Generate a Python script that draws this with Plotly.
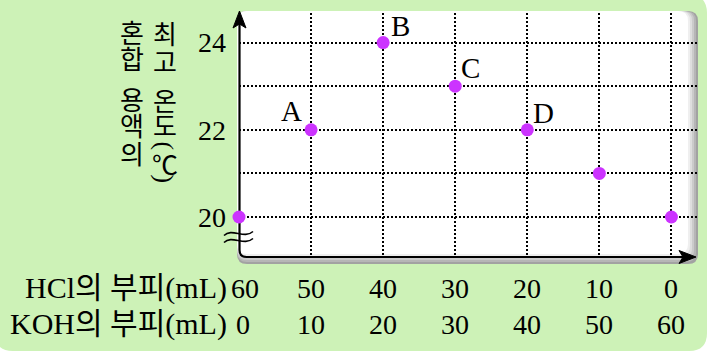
import plotly.graph_objects as go

# ---- data ----
hcl = [60, 50, 40, 30, 20, 10, 0]
koh = [0, 10, 20, 30, 40, 50, 60]
temp = [20, 22, 24, 23, 22, 21, 20]
point_labels = ["", "A", "B", "C", "D", "", ""]
ytick_vals = [20, 21, 22, 23, 24]
ytick_text = ["20", "", "22", "", "24"]
row1_label = "HCl의 부피(mL)"
row2_label = "KOH의 부피(mL)"
ytitle_left = ["혼", "합", "용", "액", "의"]
ytitle_right = ["최", "고", "온", "도", "(", "℃", ")"]

W, H = 707, 351
L, R, T, B = 239, 10, 13, 94
PW, PH = W - L - R, H - T - B
SERIF = "Liberation Serif, Noto Sans CJK KR"
KFONT = "Noto Sans CJK KR"


def px(x):
    return (x - L) / PW


def py(y):
    return (H - B - y) / PH


def P(x, y):
    return f"{px(x):.5f},{py(y):.5f}"


def rrect(x0, y0, x1, y1, r, tl=True, tr=True, br=True, bl=True):
    s = f"M {P(x0 + (r if tl else 0), y0)} "
    if tr:
        s += f"L {P(x1 - r, y0)} Q {P(x1, y0)} {P(x1, y0 + r)} "
    else:
        s += f"L {P(x1, y0)} "
    if br:
        s += f"L {P(x1, y1 - r)} Q {P(x1, y1)} {P(x1 - r, y1)} "
    else:
        s += f"L {P(x1, y1)} "
    if bl:
        s += f"L {P(x0 + r, y1)} Q {P(x0, y1)} {P(x0, y1 - r)} "
    else:
        s += f"L {P(x0, y1)} "
    if tl:
        s += f"L {P(x0, y0 + r)} Q {P(x0, y0)} {P(x0 + r, y0)} "
    else:
        s += f"L {P(x0, y0)} "
    return s + "Z"


shapes = []
# green background
shapes.append(dict(type="path", xref="paper", yref="paper", layer="below",
                   path=rrect(-5, -5, 707, 351, 18, tl=False),
                   fillcolor="#cdf2b7", line=dict(width=0)))
# white panel with shadow
shadow = [(698, 264, "#a2a2a2"), (696, 262, "#b6b6b6"), (694, 260, "#cbcbcb"),
          (692, 258, "#dedede"), (690, 256, "#efefef"), (688, 254, "#ffffff")]
for x1, y1, c in shadow:
    shapes.append(dict(type="path", xref="paper", yref="paper", layer="below",
                       path=rrect(237, 11, x1, y1, 10),
                       fillcolor=c, line=dict(width=0)))
# axes (L-shape with rounded corner)
shapes.append(dict(type="path", xref="paper", yref="paper", layer="between",
                   path=f"M {P(239.5, 22)} L {P(239.5, 250)} Q {P(239.5, 257)} {P(246.5, 257)} L {P(684, 257)}",
                   line=dict(color="black", width=2.2)))
# arrowheads
shapes.append(dict(type="path", xref="paper", yref="paper", layer="between",
                   path=f"M {P(239.5, 11)} L {P(233, 28)} L {P(239.5, 24)} L {P(246, 28)} Z",
                   fillcolor="black", line=dict(color="black", width=1)))
shapes.append(dict(type="path", xref="paper", yref="paper", layer="between",
                   path=f"M {P(696, 257)} L {P(679, 250.5)} L {P(683, 257)} L {P(679, 263.5)} Z",
                   fillcolor="black", line=dict(color="black", width=1)))
# axis break symbol
for yb in (233.5, 240.5):
    shapes.append(dict(type="path", xref="paper", yref="paper", layer="above",
                       path=f"M {P(224, yb + 2)} C {P(232, yb - 6)} {P(244, yb + 6)} {P(253, yb - 2)}",
                       line=dict(color="black", width=1.6)))

fig = go.Figure()
fig.add_trace(go.Scatter(
    x=list(range(len(temp))), y=temp, mode="markers",
    marker=dict(color="#cc33ff", size=13, line=dict(width=0)),
    cliponaxis=False, showlegend=False, hoverinfo="skip"))

ann = []
# point labels
offsets = {"A": (-20, 19), "B": (17, 17), "C": (15, 18), "D": (16, 17)}
for i, lab in enumerate(point_labels):
    if lab:
        dx, dy = offsets[lab]
        ann.append(dict(x=i, y=temp[i], xref="x", yref="y", text=lab, showarrow=False,
                        xshift=dx, yshift=dy, font=dict(family=SERIF, size=29, color="black")))
# bottom number rows
for i in range(len(hcl)):
    sh = 6 if i == 0 else 0
    ann.append(dict(x=i, y=py(288), xref="x", yref="paper", text=str(hcl[i]), showarrow=False,
                    xshift=sh, yanchor="middle", font=dict(family=SERIF, size=28, color="black")))
    ann.append(dict(x=i, y=py(324), xref="x", yref="paper", text=str(koh[i]), showarrow=False,
                    xshift=sh + (-2 if i == 0 else 0), yanchor="middle",
                    font=dict(family=SERIF, size=28, color="black")))
ann.append(dict(x=px(229), y=py(288), xref="paper", yref="paper", text=row1_label, showarrow=False,
                xanchor="right", yanchor="middle", font=dict(family=SERIF, size=30, color="black")))
ann.append(dict(x=px(229), y=py(324), xref="paper", yref="paper", text=row2_label, showarrow=False,
                xanchor="right", yanchor="middle", font=dict(family=SERIF, size=30, color="black")))
# vertical y-axis title
left_y = [31.5, 57.5, 98.5, 124, 152.5]
for ch, yy in zip(ytitle_left, left_y):
    ann.append(dict(x=px(132), y=py(yy), xref="paper", yref="paper", text=ch, showarrow=False,
                    xanchor="center", yanchor="middle", font=dict(family=KFONT, size=26, color="black")))
right_y = [32.5, 60.5, 99.5, 125, 146, 163, 179]
for ch, yy in zip(ytitle_right, right_y):
    rot = 90 if ch in "()" else 0
    fam = SERIF if ch in "()" else KFONT
    ann.append(dict(x=px(164.5), y=py(yy), xref="paper", yref="paper", text=ch, showarrow=False,
                    textangle=rot, xanchor="center", yanchor="middle",
                    font=dict(family=fam, size=26, color="black")))

fig.update_layout(
    width=W, height=H, margin=dict(l=L, r=R, t=T, b=B, pad=0),
    paper_bgcolor="white", plot_bgcolor="rgba(0,0,0,0)",
    shapes=shapes, annotations=ann,
    xaxis=dict(range=[0, PW / 72.07], tickvals=list(range(len(hcl))), showticklabels=False,
               showgrid=True, gridcolor="black", gridwidth=2, griddash="2px,2px",
               zeroline=False, showline=False, ticks="", fixedrange=True),
    yaxis=dict(range=[20 - 40 / 43.6, 20 - 40 / 43.6 + PH / 43.6], tickvals=ytick_vals, ticktext=ytick_text,
               showgrid=True, gridcolor="black", gridwidth=2, griddash="2px,2px",
               zeroline=False, showline=False, ticks="", ticklabelstandoff=12,
               tickfont=dict(family=SERIF, size=28, color="black"), fixedrange=True),
)
fig.write_html("out.html")
